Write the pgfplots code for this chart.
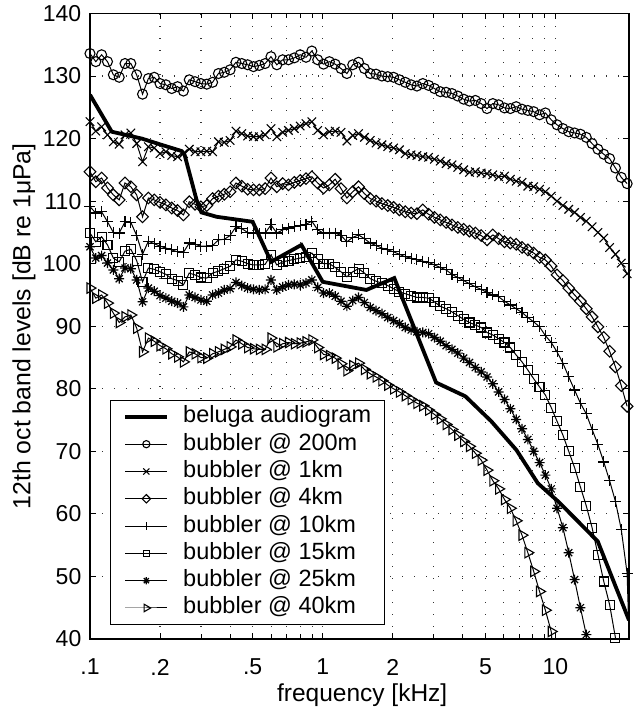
\documentclass[border=0pt]{standalone}
\usepackage{pgfplots}
\pgfplotsset{compat=1.18}
\usepackage{pgfplotstable}
\usepackage{fontspec}
\setmainfont{Liberation Sans}
\pgfdeclareplotmark{star8}{%
  \pgfpathmoveto{\pgfqpoint{-\pgfplotmarksize}{0pt}}%
  \pgfpathlineto{\pgfqpoint{\pgfplotmarksize}{0pt}}%
  \pgfpathmoveto{\pgfqpoint{0pt}{-\pgfplotmarksize}}%
  \pgfpathlineto{\pgfqpoint{0pt}{\pgfplotmarksize}}%
  \pgfpathmoveto{\pgfqpoint{-.7071\pgfplotmarksize}{-.7071\pgfplotmarksize}}%
  \pgfpathlineto{\pgfqpoint{.7071\pgfplotmarksize}{.7071\pgfplotmarksize}}%
  \pgfpathmoveto{\pgfqpoint{-.7071\pgfplotmarksize}{.7071\pgfplotmarksize}}%
  \pgfpathlineto{\pgfqpoint{.7071\pgfplotmarksize}{-.7071\pgfplotmarksize}}%
  \pgfusepathqstroke}
% f = frequency [kHz]; a=200m b=1km c=4km d=10km e=15km g=25km h=40km
\pgfplotstableread{
f a b c d e g h
0.1000 133.6 122.7 114.7 109.1 104.9 102.7 96.1
0.1059 132.3 121.2 113.1 108.1 103.5 100.9 94.5
0.1122 133.4 121.9 113.7 108.3 104.3 101.3 95.0
0.1189 132.3 120.6 112.1 106.7 103.0 100.1 93.7
0.1260 130.2 119.5 111.0 105.0 100.9 99.0 92.1
0.1335 129.8 119.1 110.2 104.9 100.3 97.6 90.6
0.1414 132.0 120.6 112.9 106.7 102.0 99.3 91.5
0.1498 132.0 120.9 112.3 106.6 102.3 99.2 91.8
0.1587 130.2 119.2 111.0 104.5 100.5 97.4 89.7
0.1682 127.1 116.3 107.5 101.5 97.1 93.9 85.9
0.1782 129.6 118.7 110.5 103.6 99.3 96.1 88.1
0.1888 129.8 118.5 110.2 103.2 99.1 95.6 87.6
0.2000 128.8 117.6 109.8 102.8 98.7 94.9 86.9
0.2119 128.6 117.9 109.4 102.5 98.3 94.5 86.4
0.2245 128.0 117.3 108.9 102.2 97.6 94.0 85.6
0.2378 128.3 117.1 108.5 101.9 97.3 93.7 85.1
0.2520 127.6 117.6 107.8 101.8 96.6 93.1 84.3
0.2670 129.4 118.3 109.9 103.3 98.5 95.0 85.9
0.2828 129.1 117.9 109.5 103.1 98.2 94.6 85.6
0.2997 128.8 117.9 109.1 102.8 97.8 94.2 85.0
0.3175 128.7 118.0 109.3 102.8 97.7 94.0 84.9
0.3364 129.0 117.9 110.4 102.9 98.5 95.0 85.6
0.3564 130.4 119.5 110.8 103.8 98.8 95.3 85.9
0.3776 130.6 119.4 111.1 103.9 99.2 95.8 86.3
0.4000 131.0 119.7 111.5 104.5 99.6 96.0 86.7
0.4238 132.2 121.2 112.9 105.9 100.6 97.0 87.8
0.4490 132.0 120.8 112.4 105.6 100.4 96.5 87.2
0.4757 131.8 120.4 111.9 105.0 100.0 96.1 86.6
0.5040 131.5 120.3 111.8 104.9 99.8 95.9 86.4
0.5339 131.7 120.3 111.8 104.8 99.8 95.8 86.3
0.5657 132.0 120.6 112.0 104.9 99.9 95.9 86.3
0.5993 133.1 121.6 113.7 106.2 101.4 97.4 88.1
0.6350 131.8 120.3 112.3 104.9 99.8 95.8 86.7
0.6727 132.6 121.0 112.8 105.4 100.3 96.3 87.2
0.7127 132.6 121.3 112.6 105.7 100.5 96.6 87.4
0.7551 132.9 121.6 113.0 105.9 100.7 96.7 87.2
0.8000 133.4 122.0 113.3 106.1 100.9 96.6 87.3
0.8476 133.0 122.4 113.6 106.3 101.1 96.9 87.5
0.8980 134.0 122.7 113.9 106.8 101.7 97.4 87.8
0.9514 132.6 121.3 112.9 105.4 100.7 96.2 86.6
1.0079 131.9 120.6 112.1 104.9 100.0 95.3 85.5
1.0679 132.3 121.1 112.6 104.9 100.0 95.3 85.3
1.1314 131.9 121.2 113.5 104.9 99.4 94.8 84.9
1.1986 131.2 121.0 112.0 104.5 98.7 94.0 84.0
1.2699 130.4 119.6 110.5 103.5 97.9 93.2 82.9
1.3454 131.8 120.5 111.5 104.2 98.7 94.1 83.7
1.4254 132.2 120.8 112.3 104.6 99.2 94.6 84.1
1.5102 131.2 120.2 111.2 104.0 98.5 93.8 83.1
1.6000 130.4 119.7 110.4 103.3 97.6 93.0 82.4
1.6951 130.3 119.3 110.0 102.9 97.2 92.5 81.9
1.7959 130.0 119.0 109.6 102.5 96.9 92.0 81.3
1.9027 129.9 118.7 109.3 102.2 96.5 91.4 80.6
2.0159 129.8 118.5 109.0 101.9 96.0 90.9 80.0
2.1357 129.4 118.2 108.6 101.5 95.5 90.4 79.5
2.2627 129.0 117.6 108.3 101.1 95.2 89.8 78.9
2.3973 128.6 117.4 108.1 100.9 94.9 89.4 78.3
2.5398 128.4 117.3 108.0 100.6 94.6 89.1 77.7
2.6909 128.8 117.1 108.6 100.4 94.6 89.0 77.3
2.8509 128.5 117.0 107.9 100.2 94.5 88.8 76.6
3.0204 128.0 116.7 107.4 99.8 93.9 88.2 75.9
3.2000 127.5 116.4 107.0 99.4 93.2 87.6 75.2
3.3903 127.4 116.0 106.6 99.0 92.8 86.9 74.3
3.5919 127.2 115.8 106.2 98.3 92.3 86.3 73.5
3.8055 126.8 115.4 105.8 97.8 91.7 85.7 72.6
4.0317 126.3 115.0 105.5 97.3 91.1 84.9 71.6
4.2715 126.0 114.6 105.2 96.8 90.6 84.2 70.8
4.5255 126.1 114.7 104.9 96.3 90.2 83.4 69.7
4.7946 125.6 114.5 104.5 95.9 89.8 82.7 68.6
5.0797 124.8 114.4 103.8 95.4 89.0 81.9 67.0
5.3817 125.6 114.2 104.6 95.0 88.6 80.8 65.3
5.7018 125.4 113.9 104.0 94.7 88.0 79.5 64.0
6.0409 124.9 114.0 103.5 94.0 87.4 78.3 62.3
6.4000 124.8 113.5 103.3 93.4 86.6 76.8 60.9
6.7806 125.1 113.2 103.1 92.8 85.4 75.1 58.9
7.1838 124.7 113.0 102.6 92.2 84.3 73.6 56.6
7.6109 124.5 112.4 102.2 91.4 83.0 71.9 53.8
8.0635 124.3 112.3 101.7 90.7 81.6 70.0 50.8
8.5430 123.8 111.9 101.0 89.9 80.3 68.2 47.6
9.0510 124.1 111.5 100.6 88.5 79.0 66.2 44.6
9.5892 123.0 110.8 99.6 87.4 77.0 64.0 41.2
10.1594 122.2 110.0 98.2 85.9 74.8 60.9 30
10.7635 121.6 109.3 97.3 84.1 72.6 57.8 nan
11.4036 121.1 108.7 96.1 81.9 70.0 53.8 nan
12.0817 120.9 108.2 95.0 79.8 67.4 49.5 nan
12.8000 120.7 107.4 94.0 77.7 64.3 45.0 nan
13.5611 120.2 106.8 92.8 76.0 61.3 40.7 nan
14.3675 119.2 105.9 91.5 73.5 57.8 30 nan
15.2218 118.3 105.0 89.9 71.1 53.5 nan nan
16.1270 117.5 104.1 88.2 68.3 49.2 nan nan
17.0860 116.8 102.6 86.0 65.3 45.5 nan nan
18.1019 115.3 101.5 83.5 62.0 40.2 nan nan
19.1783 113.8 100.1 80.5 57.5 30 nan nan
20.3187 112.8 98.4 77.2 50.5 nan nan nan
21.5270 nan nan nan 20 nan nan nan
}\bubbler
\begin{document}
\begin{tikzpicture}
\begin{axis}[
  at={(0pt,0pt)}, anchor=south west,
  scale only axis, width=539pt, height=625.5pt,
  xmode=log, xmin=0.1, xmax=20.7, ymin=40, ymax=140,
  xtick={0.1,0.2,0.5,1,2,5,10},
  xticklabels={.1,.2,.5,1,2,5,10},
  minor xtick={0.3,0.4,0.6,0.7,0.8,0.9,3,4,6,7,8,9},
  ytick={40,50,...,140},
  grid=both,
  major grid style={black!80, line width=1.1pt, dash pattern=on 1.1pt off 10.9pt},
  minor grid style={black!80, line width=1.1pt, dash pattern=on 1.1pt off 10.9pt},
  axis line style={line width=1.4pt},
  every tick/.style={black, line width=1pt},
  major tick length=6pt, minor tick length=5pt,
  clip mode=individual,
  /pgf/number format/assume math mode=true,
  tick label style={font=\fontsize{23}{27}\selectfont},
  xticklabel style={anchor=center, yshift=-28pt},
  yticklabel style={anchor=east, inner sep=0pt, xshift=-8.5pt},
  xlabel={frequency [kHz]},
  ylabel={12th oct band levels [dB re 1μPa]},
  every axis x label/.style={at={(axis description cs:0.505,-0.089)}, anchor=center, font=\fontsize{24.5}{29}\selectfont},
  every axis y label/.style={at={(axis description cs:-0.1224,0.5)}, anchor=center, rotate=90, font=\fontsize{24.8}{29}\selectfont},
  legend style={at={(rel axis cs:0.037,0.0224)}, anchor=south west,
    draw=black, line width=1pt, fill=white,
    inner xsep=13pt, inner ysep=5.5pt,
    font=\fontsize{23.5}{28}\selectfont,
    nodes={inner sep=0pt, text height=17pt, text depth=5pt},
    row sep=5.3pt, column sep=14pt},
  legend cell align=left,
  legend image code/.code={\draw[mark repeat=2,mark phase=2,#1,every mark/.append style={scale=0.72}] plot coordinates {(0pt,0pt) (21pt,0pt) (42pt,0pt)};},
]
\addplot[black, line width=3.8pt] coordinates {
(0.100,127.0) (0.124,121.1) (0.167,120.0) (0.203,119.0) (0.248,118.0)
(0.255,117.4) (0.287,110.2) (0.301,108.2) (0.35,107.5) (0.50,106.7)
(0.60,100.3) (0.81,103.0) (1.00,97.1) (1.54,95.8) (2.03,97.7)
(3.07,81.0) (4.1,78.8) (5.3,74.8) (6.8,70.2) (8.4,64.9) (10.4,61.8)
(15.2,55.6) (20.7,43.0)};
\addlegendentry{beluga audiogram}
\addplot[black, line width=1pt, mark=o, mark size=5pt, mark options={solid, line width=1.1pt}] table[x=f,y=a]{\bubbler};
\addlegendentry{bubbler @ 200m}
\addplot[black, line width=1pt, mark=x, mark size=6pt, mark options={solid, line width=1.1pt}] table[x=f,y=b]{\bubbler};
\addlegendentry{bubbler @ 1km}
\addplot[black, line width=1pt, mark=square, mark size=4.1pt, mark options={solid, rotate=45, line width=1.1pt}] table[x=f,y=c]{\bubbler};
\addlegendentry{bubbler @ 4km}
\addplot[black, line width=1pt, mark=+, mark size=5.5pt, mark options={solid, line width=1.1pt}] table[x=f,y=d]{\bubbler};
\addlegendentry{bubbler @ 10km}
\addplot[black, line width=1pt, mark=square, mark size=4.5pt, mark options={solid, line width=1.1pt}] table[x=f,y=e]{\bubbler};
\addlegendentry{bubbler @ 15km}
\addplot[black, line width=1pt, mark=star8, mark size=5pt, mark options={solid, line width=1.2pt}] table[x=f,y=g]{\bubbler};
\addlegendentry{bubbler @ 25km}
\addplot[black, line width=1pt, mark=triangle, mark size=6pt, mark options={solid, rotate=-90, line width=1.1pt}] table[x=f,y=h]{\bubbler};
\addlegendentry{bubbler @ 40km}
\end{axis}
\pgfresetboundingbox
\path[use as bounding box] (-90pt,-69pt) rectangle (545pt,639pt);
\end{tikzpicture}
\end{document}
